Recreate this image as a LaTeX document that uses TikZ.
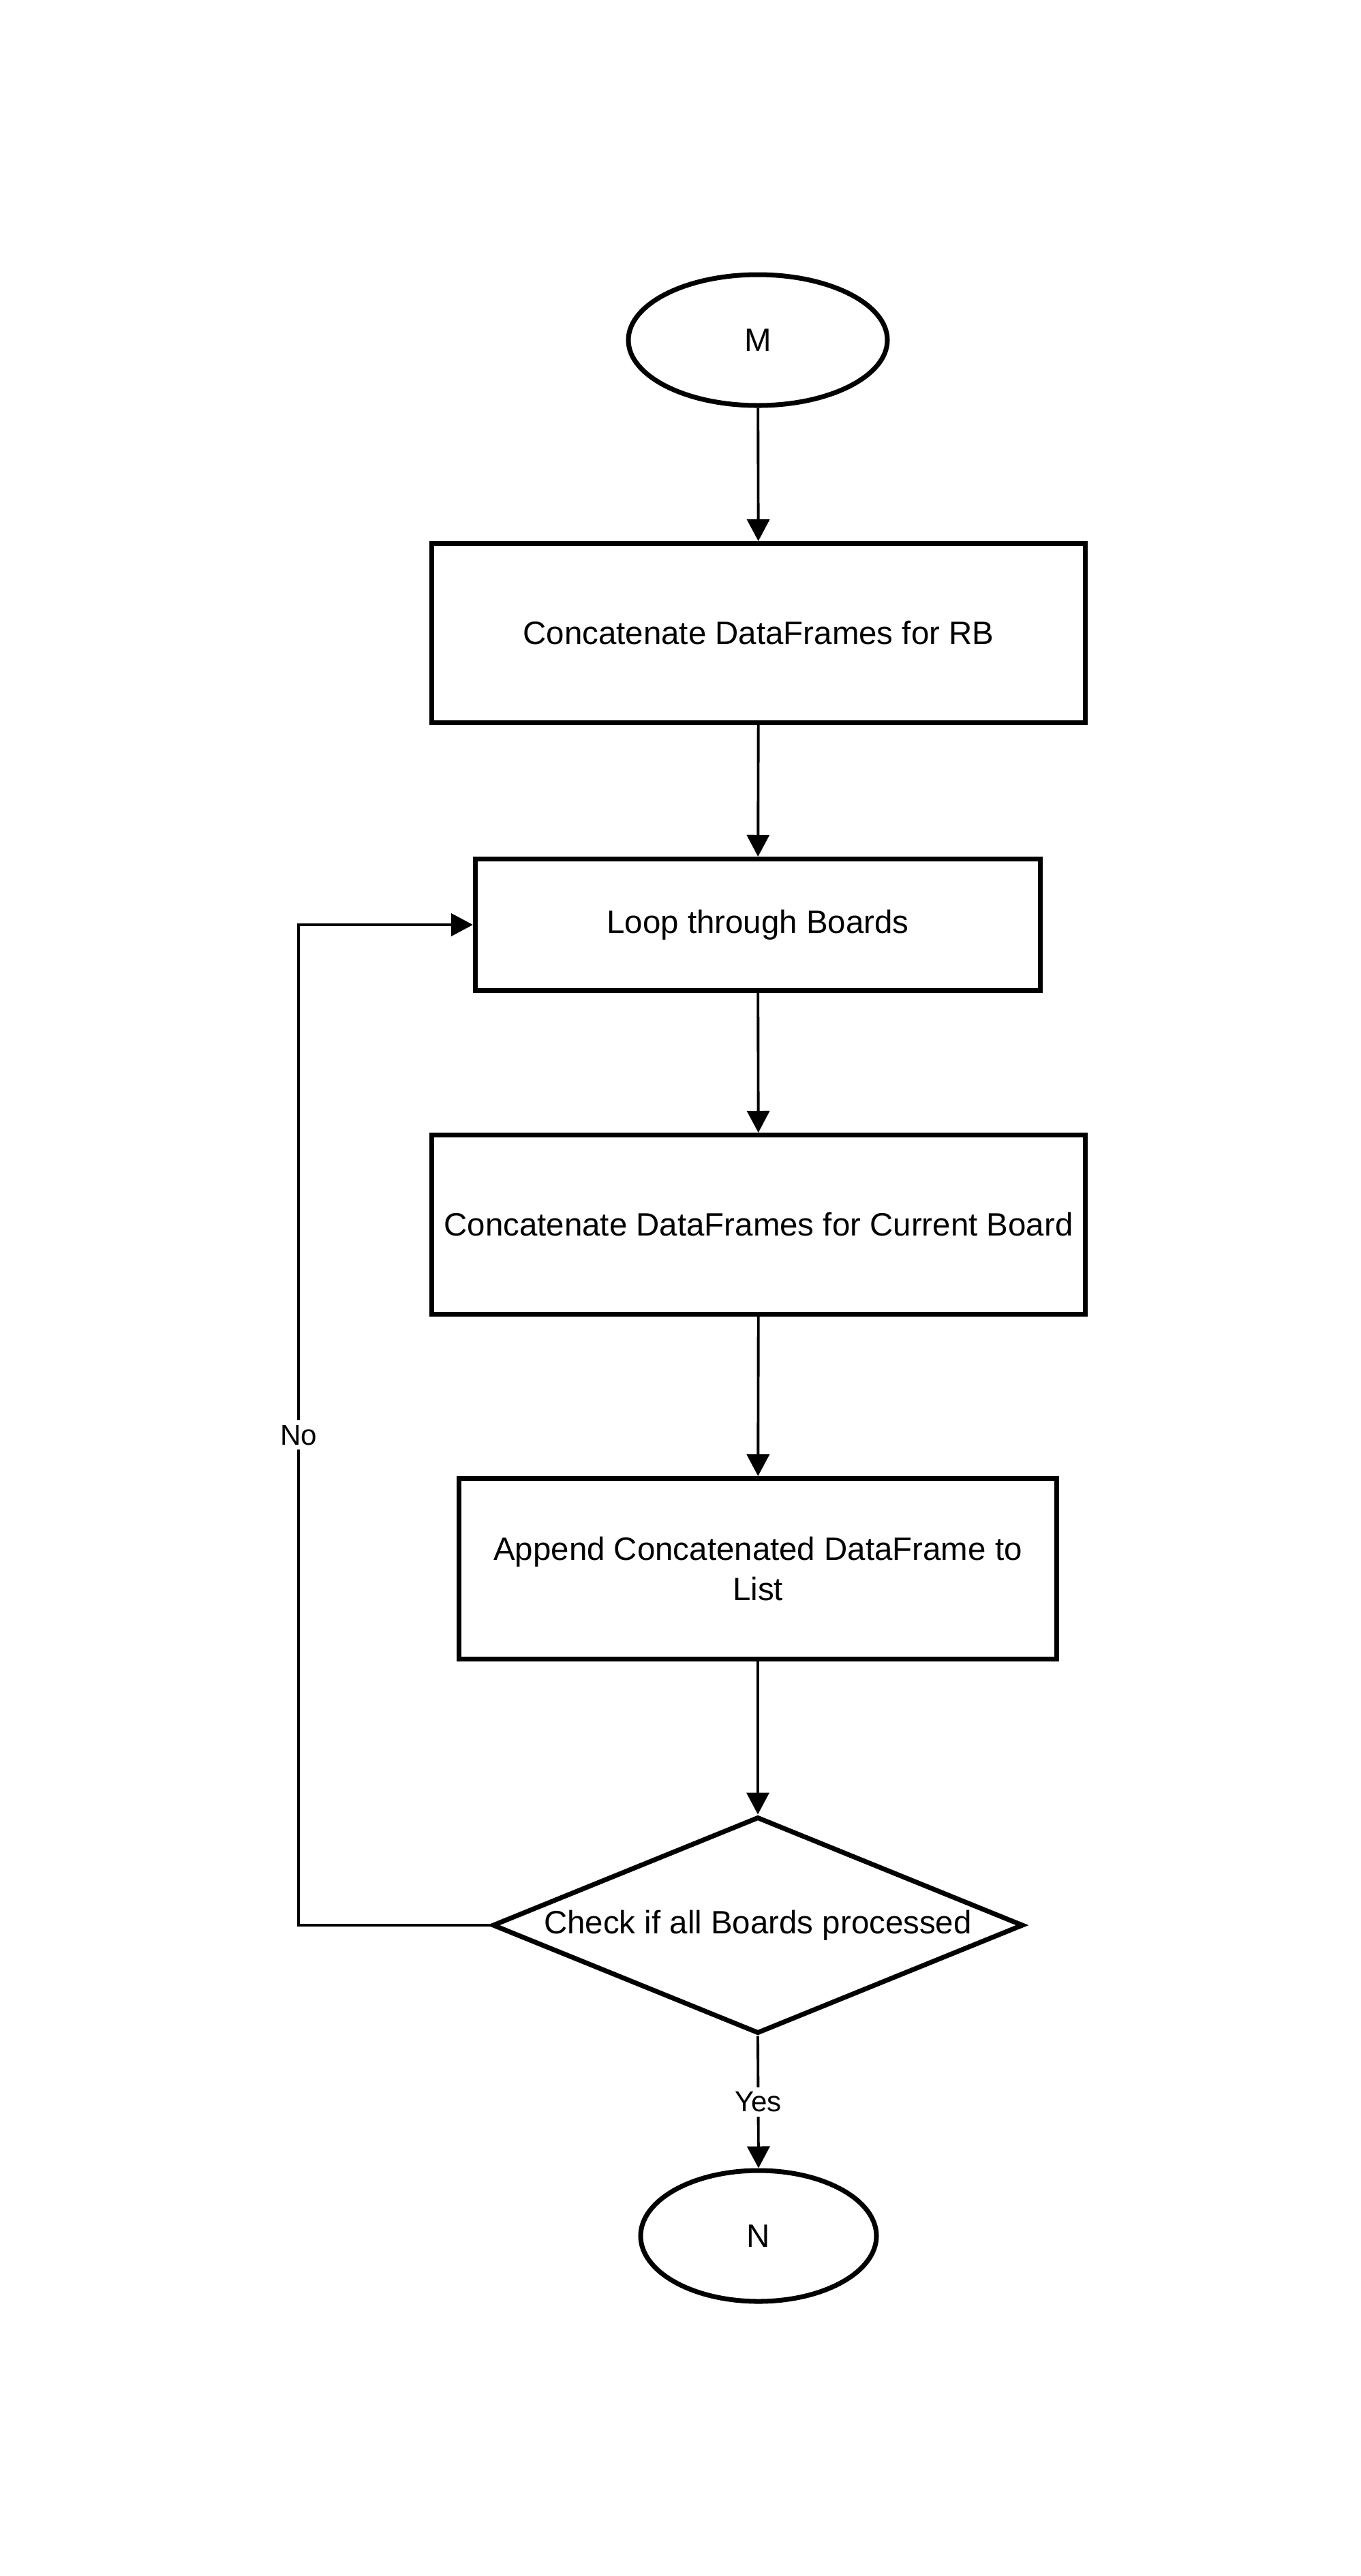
\documentclass[tikz,border=0pt]{standalone}
\usepackage{fontspec}
\setmainfont{Liberation Sans}
\usetikzlibrary{shapes.geometric,arrows.meta}
\begin{document}
\begin{tikzpicture}[
  every node/.style={font=\fontsize{13.5pt}{17pt}\selectfont},
  term/.style={draw, line width=2pt, ellipse, inner sep=0pt},
  proc/.style={draw, line width=2pt, rectangle, inner sep=0pt, align=center},
  decide/.style={draw, line width=2pt, diamond, inner sep=0pt, shape aspect=2.45},
  conn/.style={line width=1.1pt, -{Triangle[length=0.32cm, width=0.33cm]}},
  lbl/.style={fill=white, inner sep=2pt, font=\fontsize{12pt}{14pt}\selectfont}
]
\useasboundingbox (0,0) rectangle (19.96,-37.80);
\node[term, minimum width=3.80cm, minimum height=1.92cm] (m) at (11.12,-4.99) {M};
\node[proc, minimum width=9.59cm, minimum height=2.63cm] (b1) at (11.13,-9.29) {Concatenate DataFrames for RB};
\node[proc, minimum width=8.29cm, minimum height=1.93cm] (b2) at (11.12,-13.57) {Loop through Boards};
\node[proc, minimum width=9.59cm, minimum height=2.63cm] (b3) at (11.13,-17.97) {Concatenate DataFrames for Current Board};
\node[proc, minimum width=8.77cm, minimum height=2.65cm] (b4) at (11.12,-23.02) {Append Concatenated DataFrame to\\List};
\node[decide, minimum width=7.79cm, minimum height=3.18cm] (d) at (11.12,-28.25) {Check if all Boards processed};
\node[term, minimum width=3.46cm, minimum height=1.92cm] (n) at (11.13,-32.81) {N};
\coordinate (lx) at (4.38,0);
\draw[conn] (m) -- (b1);
\draw[conn] (b1) -- (b2);
\draw[conn] (b2) -- (b3);
\draw[conn] (b3) -- (b4);
\draw[conn] (b4) -- (d);
\draw[conn] (d.south) -- node[lbl]{Yes} (n.north);
\draw[conn] (d.west) -- (lx |- d.west) -- node[lbl, pos=0.49]{No} (lx |- b2.west) -- (b2.west);
\end{tikzpicture}
\end{document}
